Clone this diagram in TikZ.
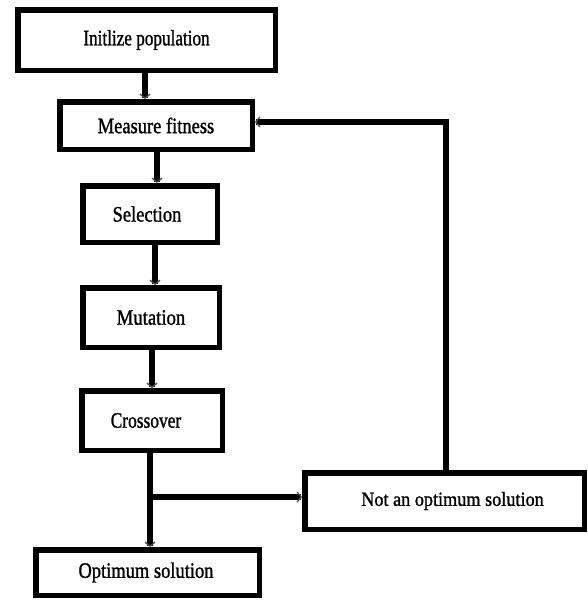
\documentclass[tikz,border=0pt]{standalone}
\usepackage{fontspec}
\setmainfont{Liberation Serif}
\newfontfamily\heavy[FakeBold=1.3]{Liberation Serif}
\usetikzlibrary{arrows.meta}
\newcommand{\cond}[2]{\scalebox{#1}[1]{#2}}
\begin{document}
\begin{tikzpicture}[x=1pt,y=-1pt,
  box/.style={draw=black,line width=5.5pt,rectangle,inner sep=0pt,line join=miter,
    font=\heavy\fontsize{22}{26}\selectfont},
  conn/.style={line width=5.5pt,-{Straight Barb[length=4pt,width=10pt,line width=1.3pt,color=gray!60!black]}},
  plain/.style={line width=5.5pt}]
\useasboundingbox (0,0) rectangle (588,600);
\node[box,minimum width=257.5pt,minimum height=60.5pt] (b1) at (146.5,40) {\cond{0.78}{Initlize population}};
\node[box,minimum width=192.5pt,minimum height=47.5pt] (b2) at (156,125.5) {\cond{0.84}{Measure fitness}};
\node[box,minimum width=134.5pt,minimum height=56.5pt] (b3) at (150,214) {\cond{0.84}{Selection}\hspace*{6pt}};
\node[box,minimum width=136.5pt,minimum height=59.5pt] (b4) at (151,317.5) {\cond{0.85}{Mutation}};
\node[box,minimum width=140.5pt,minimum height=59.5pt] (b5) at (152,420.5) {\cond{0.79}{Crossover}\hspace*{12pt}};
\node[box,minimum width=223.5pt,minimum height=45.5pt] (b6) at (147.5,572.5) {\cond{0.84}{Optimum solution}\hspace*{3pt}};
\node[box,minimum width=279.5pt,minimum height=56.5pt,font=\heavy\fontsize{20}{24}\selectfont] (b7) at (444.5,501) {\hspace*{16pt}\cond{0.91}{Not an optimum solution}};
\coordinate (j) at (150,497);
\coordinate (fb) at (446,122);
\draw[conn] (b1.south -| 145,0) -- (b2.north -| 145,0);
\draw[conn] (b2.south -| 157,0) -- (b3.north -| 157,0);
\draw[conn] (b3.south -| 155,0) -- (b4.north -| 155,0);
\draw[conn] (b4.south -| 152,0) -- (b5.north -| 152,0);
\draw[plain] (b5.south -| j) -- (j);
\draw[conn] ([yshift=2.75pt]j) -- (b6.north -| j);
\draw[conn] ([xshift=-2.75pt]j) -- (b7.west |- j);
\draw[conn,line join=miter] (b7.north -| fb) -- (fb) -- (b2.east |- fb);
\end{tikzpicture}
\end{document}
